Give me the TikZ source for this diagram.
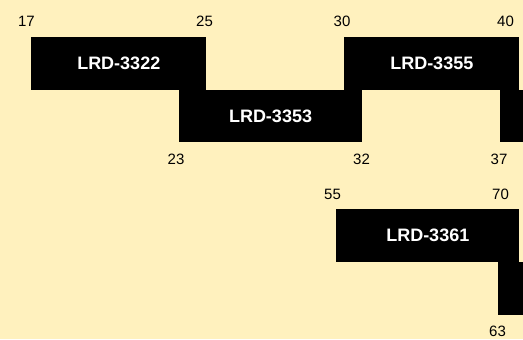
\documentclass[tikz,border=0pt]{standalone}
\usepackage{fontspec}
\setmainfont{Liberation Sans}
\usepackage{xcolor}
\definecolor{paper}{HTML}{FFF1BE}

\tikzset{
  bar/.style={fill=black, draw=none, anchor=north west, inner sep=0pt,
    text=white, font=\fontsize{13.5}{15}\selectfont\bfseries},
  num/.style={inner sep=0pt, font=\fontsize{11.25}{13}\selectfont}
}

\begin{document}
\begin{tikzpicture}[x=0.75pt, y=-0.75pt]
			\fill[paper] (0,0) rectangle (523,339);
			\useasboundingbox (0,0) rectangle (523,339);
			\clip (0,0) rectangle (523,339);
			% first row
			\node[bar, minimum width=175*0.75pt, minimum height=52.5*0.75pt] (lrdA) at (31,37) {LRD-3322};
			\node[bar, minimum width=182.5*0.75pt, minimum height=52.5*0.75pt] (lrdB) at (179,89.3) {LRD-3353};
			\node[bar, minimum width=175*0.75pt, minimum height=52.5*0.75pt] (lrdC) at (344,37) {LRD-3355};
			\node[bar, minimum width=40*0.75pt, minimum height=52.5*0.75pt] (lrdD) at (500,89.3) {};
			\node[num] (nA) at (26.5,21) {17};
			\node[num] (nB) at (204.5,21) {25};
			\node[num] (nC) at (342,21) {30};
			\node[num] (nD) at (505.5,21) {40};
			\node[num] (nE) at (176,159) {23};
			\node[num] (nF) at (361.5,159) {32};
			\node[num] (nG) at (499,159) {37};
			% second row
			\node[bar, minimum width=183*0.75pt, minimum height=52.5*0.75pt] (lrdE) at (336,209) {LRD-3361};
			\node[bar, minimum width=40*0.75pt, minimum height=53.5*0.75pt] (lrdF) at (498,261.5) {};
			\node[num] (nH) at (332.5,194.5) {55};
			\node[num] (nI) at (500.5,194.5) {70};
			\node[num] (nJ) at (497.5,331.5) {63};
		\end{tikzpicture}
\end{document}
